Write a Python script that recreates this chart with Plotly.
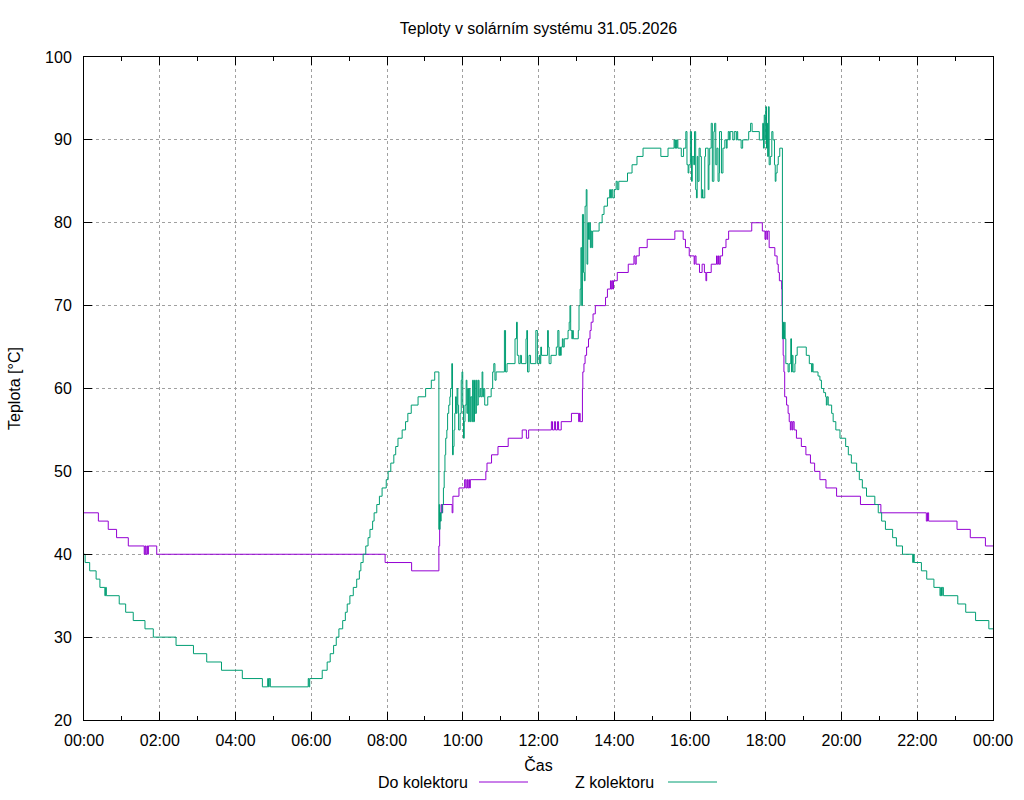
import pandas as pd
import plotly.graph_objects as go

title_text = "Teploty v solárním systému 31.05.2026"
series_names = ["Do kolektoru", "Z kolektoru"]
series_colors = ["#9400D3", "#009E73"]
day = "2026-05-31"

# "Do kolektoru" - change points: hour of day, temperature [°C]
do_hours = [0.00, 0.38, 0.64, 0.86, 1.17, 1.59, 1.61, 1.63, 1.66, 1.68, 1.70, 1.92,
            7.95, 8.65, 9.37, 9.39, 9.41, 9.43, 9.45, 9.47, 9.72, 9.74, 9.90,
            10.05, 10.08, 10.11, 10.13, 10.16, 10.18, 10.20, 10.61, 10.64, 10.76, 10.93,
            11.20, 11.57, 11.68, 11.74, 12.34, 12.37, 12.42, 12.45, 12.50, 12.53, 12.60,
            12.87, 13.06, 13.08, 13.10, 13.16, 13.17, 13.20, 13.23, 13.27, 13.32, 13.36,
            13.39, 13.44, 13.50, 13.77, 13.82, 13.90, 13.92, 13.94, 13.96, 13.98, 14.08,
            14.37, 14.52, 14.55, 14.58, 14.66, 14.87, 15.60, 15.82, 15.88, 15.98, 16.11,
            16.13, 16.16, 16.25, 16.32, 16.38, 16.42, 16.44, 16.56, 16.70, 16.72, 16.75,
            16.77, 16.80, 16.86, 16.95, 17.02, 17.63, 17.91, 17.98, 18.00, 18.03, 18.05,
            18.09, 18.24, 18.30, 18.33, 18.36, 18.42, 18.43, 18.44, 18.45, 18.46, 18.48,
            18.50, 18.55, 18.59, 18.62, 18.65, 18.67, 18.70, 18.72, 18.75, 18.81, 18.94,
            19.06, 19.18, 19.29, 19.43, 19.59, 19.87, 20.50, 21.04, 22.24, 22.27, 22.30,
            23.05, 23.40, 23.80, 24.00]
do_temp = [45, 44, 43, 42, 41, 40, 41, 40, 41, 40, 41, 40,
           39, 38, 41, 44, 45, 46, 45, 46, 45, 47, 48,
           49, 48, 49, 48, 49, 48, 49, 50, 51, 52, 53,
           54, 55, 54, 55, 56, 55, 56, 55, 56, 55, 56,
           57, 56, 57, 56, 60, 62, 63, 64, 65, 66, 67,
           68, 69, 70, 71, 72, 73, 72, 73, 72, 73, 74,
           75, 76, 75, 76, 77, 78, 79, 78, 77, 76, 75,
           76, 75, 74, 75, 74, 73, 74, 75, 76, 75, 76,
           75, 76, 77, 78, 79, 80, 79, 78, 79, 78, 79,
           77, 76, 75, 74, 73, 72, 70, 68, 66, 64, 62,
           59, 58, 57, 56, 55, 56, 55, 56, 55, 54, 53,
           52, 51, 50, 49, 48, 47, 46, 45, 44, 45, 44,
           43, 42, 41, 41]

# "Z kolektoru" - change points: hour of day, temperature [°C]
z_hours = [0.00, 0.03, 0.15, 0.32, 0.42, 0.55, 0.57, 0.59, 0.93, 1.10, 1.30, 1.61, 1.83,
           2.43, 2.89, 3.24, 3.63, 4.18, 4.71, 4.85, 4.87, 4.89, 4.92, 5.92, 5.94, 5.96,
           6.29, 6.42, 6.50, 6.59, 6.66, 6.73, 6.83, 6.90, 6.95, 7.02, 7.11, 7.20, 7.27,
           7.31, 7.37, 7.44, 7.50, 7.55, 7.62, 7.66, 7.73, 7.80, 7.87, 7.98, 8.03, 8.10,
           8.18, 8.23, 8.29, 8.40, 8.49, 8.55, 8.64, 8.82, 9.02, 9.17, 9.26, 9.37, 9.38,
           9.39, 9.40, 9.41, 9.43, 9.46, 9.49, 9.51, 9.53, 9.55, 9.58, 9.60, 9.63, 9.66,
           9.68, 9.71, 9.73, 9.75, 9.77, 9.79, 9.81, 9.83, 9.85, 9.87, 9.89, 9.93, 9.96,
           9.98, 10.00, 10.02, 10.04, 10.06, 10.09, 10.11, 10.13, 10.15, 10.17, 10.19,
           10.21, 10.24, 10.26, 10.28, 10.31, 10.33, 10.36, 10.38, 10.41, 10.43, 10.46,
           10.48, 10.51, 10.53, 10.55, 10.58, 10.66, 10.75, 10.79, 10.82, 10.85, 10.88,
           11.10, 11.13, 11.17, 11.38, 11.42, 11.44, 11.48, 11.52, 11.55, 11.67, 11.69,
           11.71, 11.75, 11.79, 11.93, 11.97, 12.02, 12.04, 12.06, 12.08, 12.24, 12.26,
           12.28, 12.33, 12.47, 12.51, 12.54, 12.56, 12.58, 12.60, 12.63, 12.65, 12.68,
           12.78, 12.81, 12.83, 12.85, 12.88, 12.90, 12.92, 13.05, 13.07, 13.10, 13.12,
           13.14, 13.16, 13.19, 13.21, 13.23, 13.26, 13.28, 13.30, 13.32, 13.35, 13.37,
           13.39, 13.41, 13.43, 13.60, 13.68, 13.73, 13.82, 13.88, 13.90, 13.93, 13.96,
           14.00, 14.05, 14.08, 14.12, 14.35, 14.47, 14.60, 14.76, 15.23, 15.42, 15.58,
           15.60, 15.62, 15.64, 15.66, 15.68, 15.77, 15.83, 15.89, 15.92, 15.95, 15.97,
           16.01, 16.04, 16.06, 16.10, 16.12, 16.15, 16.17, 16.19, 16.21, 16.24, 16.27,
           16.30, 16.33, 16.34, 16.39, 16.41, 16.48, 16.50, 16.52, 16.56, 16.59, 16.63,
           16.65, 16.68, 16.71, 16.74, 16.77, 16.78, 16.83, 16.87, 16.92, 16.96, 16.98,
           17.01, 17.04, 17.06, 17.13, 17.17, 17.22, 17.24, 17.26, 17.35, 17.39, 17.55,
           17.60, 17.64, 17.83, 17.92, 17.94, 17.96, 17.98, 18.00, 18.02, 18.04, 18.05,
           18.07, 18.09, 18.12, 18.16, 18.19, 18.23, 18.25, 18.27, 18.30, 18.33, 18.37,
           18.44, 18.46, 18.47, 18.48, 18.49, 18.50, 18.51, 18.53, 18.59, 18.62, 18.66,
           18.68, 18.70, 18.72, 18.77, 18.79, 18.83, 19.07, 19.15, 19.21, 19.23, 19.25,
           19.38, 19.43, 19.47, 19.53, 19.58, 19.60, 19.62, 19.65, 19.74, 19.78, 19.85,
           19.96, 20.11, 20.18, 20.26, 20.40, 20.47, 20.55, 20.66, 20.88, 20.97, 21.06,
           21.16, 21.35, 21.45, 21.61, 21.88, 21.90, 21.92, 22.11, 22.25, 22.44, 22.60,
           22.62, 22.64, 22.66, 22.69, 23.07, 23.28, 23.54, 23.89, 24.00]
z_temp = [40, 39, 38, 37, 36, 35, 36, 35, 34, 33, 32, 31, 30,
          29, 28, 27, 26, 25, 24, 25, 24, 25, 24, 25, 24, 25,
          26, 27, 28, 29, 30, 31, 32, 33, 34, 35, 36, 37, 38,
          39, 40, 41, 42, 43, 44, 45, 46, 47, 48, 49, 50, 51,
          52, 53, 54, 55, 56, 57, 58, 59, 60, 61, 62, 43, 46,
          43, 45, 44, 45, 46, 48, 50, 52, 54, 55, 57, 58, 59,
          60, 63, 52, 53, 55, 57, 59, 57, 60, 58, 55, 57, 61,
          62, 58, 54, 56, 58, 61, 57, 60, 56, 60, 56,
          59, 56, 61, 56, 61, 57, 61, 58, 61, 59, 60,
          59, 62, 59, 60, 58, 59, 60, 62, 63, 61, 62,
          67, 62, 63, 66, 68, 64, 63, 64, 63, 66, 67,
          62, 64, 63, 67, 63, 64, 63, 65, 64, 67, 65,
          63, 64, 65, 67, 64, 65, 64, 65, 66, 65, 66,
          67, 68, 70, 67, 66, 67, 66, 67, 70, 72, 77,
          70, 81, 74, 73, 82, 84, 75, 80, 78, 80, 77,
          79, 77, 79, 80, 81, 82, 83, 84, 83, 84, 83,
          84, 85, 84, 85, 86, 87, 88, 89, 88, 89, 90,
          89, 90, 89, 90, 89, 88, 89, 91, 87, 86, 87,
          91, 85, 88, 87, 91, 84, 83, 88, 85, 89, 88,
          83, 84, 83, 88, 89, 84, 87, 89, 92, 85, 91,
          92, 87, 89, 85, 86, 91, 86, 89, 90, 89, 90,
          91, 90, 91, 90, 91, 90, 91, 90, 89, 90, 91,
          92, 91, 90, 92, 89, 93, 90, 94, 89, 92, 88,
          94, 87, 88, 91, 90, 87, 85, 86, 87, 88, 89,
          66, 68, 66, 67, 66, 68, 66, 63, 62, 63, 66,
          62, 64, 62, 63, 64, 65, 64, 63, 62, 63, 62,
          61.5, 61, 60, 59.5, 59, 58, 59, 58, 57, 56, 55,
          54, 53, 52, 51, 50, 49, 48, 47, 46, 45, 44,
          43, 42, 41, 40, 39, 40, 39, 38, 37, 36, 35,
          36, 35, 36, 35, 34, 33, 32, 31, 31]

x_tick_hours = list(range(0, 25, 2))
y_range = [20, 100]

base = pd.Timestamp(day)


def to_time(hours):
    return [base + pd.Timedelta(hours=h) for h in hours]


FONT = "Liberation Sans, Arial, sans-serif"

fig = go.Figure()
for name, color, hh, tt in [(series_names[0], series_colors[0], do_hours, do_temp),
                            (series_names[1], series_colors[1], z_hours, z_temp)]:
    fig.add_trace(go.Scatter(x=to_time(hh), y=tt, mode="lines", name=name,
                             line=dict(color=color, width=1, shape="hv"),
                             showlegend=False, hoverinfo="skip"))

tickvals = to_time(x_tick_hours)
fig.update_xaxes(
    range=[tickvals[0], tickvals[-1]],
    tickvals=tickvals, ticktext=[t.strftime("%H:%M") for t in tickvals],
    ticks="inside", ticklen=8, tickwidth=1, tickcolor="black",
    showline=True, linecolor="black", linewidth=1, mirror="ticks",
    showgrid=True, gridcolor="#a0a0a0", gridwidth=1, griddash="3px,3px",
    zeroline=False,
    minor=dict(ticks="inside", ticklen=4, tickcolor="black", dtick=3600000,
               tick0=tickvals[0], showgrid=False),
    tickfont=dict(family=FONT, size=16, color="black"),
    ticklabelstandoff=6,
    title=dict(text="Čas", font=dict(family=FONT, size=16, color="black"), standoff=11),
)
fig.update_yaxes(
    range=y_range, dtick=10, tick0=0,
    ticks="inside", ticklen=8, tickwidth=1, tickcolor="black",
    showline=True, linecolor="black", linewidth=1, mirror="ticks",
    showgrid=True, gridcolor="#a0a0a0", gridwidth=1, griddash="3px,3px",
    zeroline=False,
    tickfont=dict(family=FONT, size=16, color="black"),
    ticklabelstandoff=8,
    title=dict(text="Teplota [°C]", font=dict(family=FONT, size=16, color="black"), standoff=20),
)

W, H = 1024, 800
L, R, T, B = 84, 31, 57, 80
pw, ph = W - L - R, H - T - B


def px(xp):
    return (xp - L) / pw


def py(yp):
    return (H - B - yp) / ph


legend_y = 782
annotations = [
    dict(text=series_names[0], xref="paper", yref="paper", x=px(470), y=py(legend_y),
         xanchor="right", yanchor="middle", showarrow=False,
         font=dict(family=FONT, size=16, color="black")),
    dict(text=series_names[1], xref="paper", yref="paper", x=px(656), y=py(legend_y),
         xanchor="right", yanchor="middle", showarrow=False,
         font=dict(family=FONT, size=16, color="black")),
]
shapes = [
    dict(type="line", xref="paper", yref="paper", x0=px(479), x1=px(528),
         y0=py(legend_y), y1=py(legend_y), line=dict(color=series_colors[0], width=1)),
    dict(type="line", xref="paper", yref="paper", x0=px(668), x1=px(717),
         y0=py(legend_y), y1=py(legend_y), line=dict(color=series_colors[1], width=1)),
]

fig.update_layout(
    width=W, height=H,
    margin=dict(l=L, r=R, t=T, b=B),
    paper_bgcolor="white", plot_bgcolor="white",
    title=dict(text=title_text, x=0.5, xref="paper", y=1 - 28 / H, yref="container",
               xanchor="center", yanchor="middle",
               font=dict(family=FONT, size=16, color="black")),
    annotations=annotations, shapes=shapes,
    showlegend=False,
    hovermode=False,
)

fig.write_html("out.html", config={"displayModeBar": False})
